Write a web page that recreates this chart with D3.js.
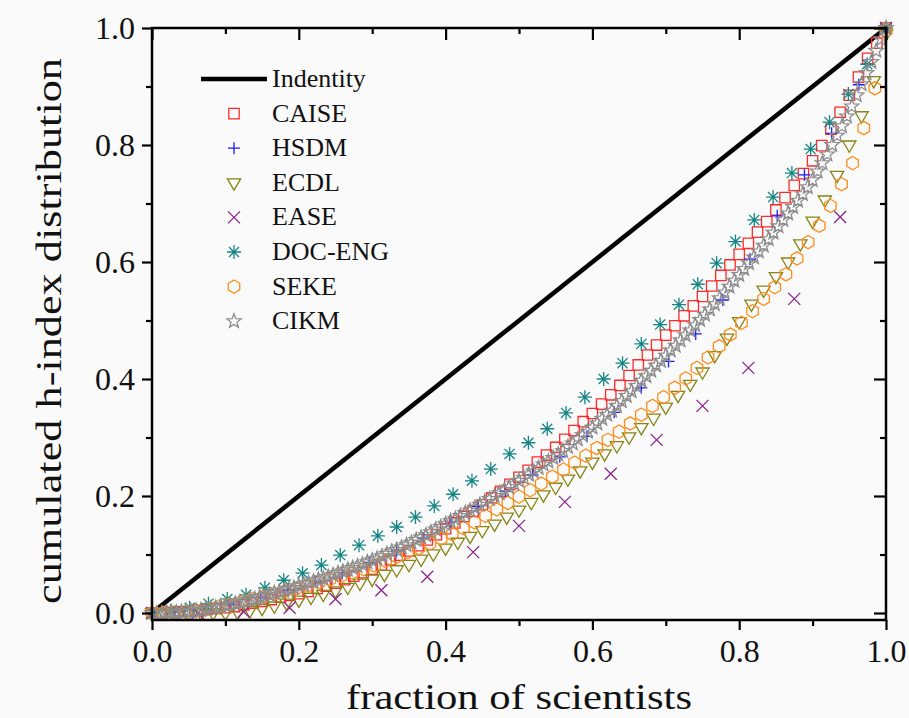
<!DOCTYPE html>
<html lang="en-US">
<head>
<meta charset="utf-8">
<style>
  body { margin: 0; background: #fafafa; }
  svg text { font-family: "Liberation Serif", "DejaVu Serif", serif; fill: #111; }
</style>
</head>
<body>
<div id="chart"></div>
<script src="https://cdnjs.cloudflare.com/ajax/libs/d3/7.8.5/d3.min.js"></script>
<script>
var WIDTH = 909, HEIGHT = 718;

// cumulated h-index share; x of point i is i/(n-1)
var identityX = [0, 1];
var identityY = [0, 1];
var caise = [0, 0.000, 0.001, 0.002, 0.003, 0.004, 0.006, 0.008, 0.009, 0.011,
  0.014, 0.017, 0.020, 0.023, 0.027, 0.030, 0.033, 0.037, 0.042, 0.046,
  0.051, 0.057, 0.063, 0.069, 0.075, 0.082, 0.091, 0.099, 0.106, 0.115,
  0.125, 0.134, 0.144, 0.154, 0.165, 0.174, 0.185, 0.197, 0.208, 0.220,
  0.232, 0.244, 0.258, 0.270, 0.283, 0.297, 0.312, 0.327, 0.341, 0.357,
  0.373, 0.389, 0.406, 0.424, 0.441, 0.458, 0.475, 0.491, 0.508, 0.525,
  0.541, 0.559, 0.577, 0.595, 0.613, 0.632, 0.651, 0.669, 0.689, 0.710,
  0.731, 0.751, 0.773, 0.799, 0.827, 0.856, 0.885, 0.916, 0.948, 0.974,
  1.000];
var hsdm = [0, 0.001, 0.006, 0.014, 0.026, 0.039, 0.054, 0.069, 0.086, 0.106,
  0.128, 0.156, 0.182, 0.208, 0.236, 0.267, 0.302, 0.343, 0.385, 0.430,
  0.477, 0.535, 0.605, 0.679, 0.749, 0.820, 0.903, 1.000];
var ecdl = [0, 0, 0, 0, 0, 0, 0.000, 0.001, 0.004, 0.008,
  0.012, 0.017, 0.022, 0.027, 0.032, 0.038, 0.044, 0.051, 0.058, 0.066,
  0.074, 0.083, 0.092, 0.101, 0.111, 0.121, 0.131, 0.141, 0.152, 0.164,
  0.176, 0.189, 0.202, 0.215, 0.229, 0.243, 0.258, 0.272, 0.286, 0.301,
  0.317, 0.333, 0.352, 0.372, 0.391, 0.412, 0.440, 0.470, 0.498, 0.528,
  0.552, 0.575, 0.600, 0.631, 0.670, 0.706, 0.748, 0.800, 0.850, 0.910,
  0.990];
var ease = [0, 0, 0.002, 0.009, 0.024, 0.039, 0.062, 0.104, 0.149, 0.190,
  0.238, 0.296, 0.354, 0.419, 0.537, 0.677, 1.000];
var docEng = [0, 0.004, 0.009, 0.016, 0.024, 0.031, 0.043, 0.056, 0.068, 0.082,
  0.099, 0.116, 0.132, 0.147, 0.164, 0.183, 0.203, 0.226, 0.246, 0.272,
  0.291, 0.315, 0.342, 0.369, 0.400, 0.427, 0.460, 0.493, 0.527, 0.562,
  0.598, 0.635, 0.672, 0.711, 0.752, 0.793, 0.839, 0.887, 0.938, 1.000];
var seke = [0, 0.000, 0.001, 0.002, 0.004, 0.007, 0.011, 0.015, 0.019, 0.024,
  0.028, 0.033, 0.038, 0.042, 0.047, 0.052, 0.057, 0.063, 0.069, 0.075,
  0.081, 0.089, 0.096, 0.104, 0.111, 0.119, 0.127, 0.135, 0.145, 0.155,
  0.166, 0.177, 0.188, 0.199, 0.210, 0.221, 0.233, 0.245, 0.257, 0.269,
  0.282, 0.296, 0.310, 0.324, 0.339, 0.354, 0.369, 0.385, 0.401, 0.419,
  0.437, 0.456, 0.476, 0.496, 0.516, 0.537, 0.557, 0.579, 0.606, 0.634,
  0.662, 0.696, 0.733, 0.769, 0.829, 0.897, 0.995];
var cikm = [0, 0.000, 0.000, 0.001, 0.001, 0.001, 0.002, 0.003, 0.003, 0.004,
  0.005, 0.007, 0.008, 0.009, 0.011, 0.013, 0.014, 0.016, 0.018, 0.020,
  0.022, 0.024, 0.027, 0.029, 0.031, 0.034, 0.036, 0.038, 0.041, 0.043,
  0.046, 0.049, 0.051, 0.054, 0.057, 0.059, 0.062, 0.065, 0.068, 0.071,
  0.074, 0.077, 0.080, 0.083, 0.087, 0.090, 0.093, 0.097, 0.101, 0.105,
  0.108, 0.112, 0.116, 0.120, 0.125, 0.129, 0.133, 0.138, 0.143, 0.147,
  0.152, 0.157, 0.161, 0.166, 0.171, 0.175, 0.180, 0.185, 0.190, 0.195,
  0.200, 0.205, 0.210, 0.215, 0.221, 0.226, 0.231, 0.237, 0.242, 0.248,
  0.254, 0.259, 0.265, 0.271, 0.277, 0.284, 0.290, 0.297, 0.304, 0.310,
  0.317, 0.324, 0.332, 0.339, 0.346, 0.354, 0.362, 0.371, 0.379, 0.388,
  0.397, 0.405, 0.414, 0.423, 0.431, 0.440, 0.449, 0.457, 0.466, 0.475,
  0.483, 0.492, 0.501, 0.510, 0.519, 0.528, 0.538, 0.548, 0.558, 0.568,
  0.578, 0.588, 0.598, 0.608, 0.618, 0.628, 0.639, 0.650, 0.661, 0.672,
  0.683, 0.694, 0.705, 0.716, 0.728, 0.740, 0.755, 0.769, 0.784, 0.800,
  0.816, 0.832, 0.849, 0.866, 0.885, 0.904, 0.923, 0.942, 0.961, 0.981,
  1.000];

var seriesNames = ["CAISE", "HSDM", "ECDL", "EASE", "DOC-ENG", "SEKE", "CIKM"];
var seriesValues = [caise, hsdm, ecdl, ease, docEng, seke, cikm];
var seriesColors = ["#ff2a2a", "#1a1aff", "#858515", "#8a238a", "#168585", "#ff8c1a", "#8c8c8c"];
var majorTicks = [0, 0.2, 0.4, 0.6, 0.8, 1.0];
var minorTicks = [0.1, 0.3, 0.5, 0.7, 0.9];

// marker shapes, size = radius^2
var symSquare = { draw: function (c, s) { var r = Math.sqrt(s); c.rect(-r, -r, 2 * r, 2 * r); } };
var symPlus = { draw: function (c, s) { var r = Math.sqrt(s);
  c.moveTo(-r, 0); c.lineTo(r, 0); c.moveTo(0, -r); c.lineTo(0, r); } };
var symTriDown = { draw: function (c, s) { var r = Math.sqrt(s);
  c.moveTo(-r, -0.6 * r); c.lineTo(r, -0.6 * r); c.lineTo(0, 1.1 * r); c.closePath(); } };
var symTimes = { draw: function (c, s) { var r = Math.sqrt(s);
  c.moveTo(-r, -r); c.lineTo(r, r); c.moveTo(-r, r); c.lineTo(r, -r); } };
var symAsterisk = { draw: function (c, s) { var r = Math.sqrt(s), d = r * 0.72;
  c.moveTo(-r, 0); c.lineTo(r, 0); c.moveTo(0, -r); c.lineTo(0, r);
  c.moveTo(-d, -d); c.lineTo(d, d); c.moveTo(-d, d); c.lineTo(d, -d); } };
var symHexagon = { draw: function (c, s) { var r = Math.sqrt(s);
  for (var k = 0; k < 6; k++) {
    var a = (-90 + 60 * k) * Math.PI / 180;
    if (k === 0) c.moveTo(r * Math.cos(a), r * Math.sin(a)); else c.lineTo(r * Math.cos(a), r * Math.sin(a));
  }
  c.closePath(); } };
var symStar = { draw: function (c, s) { var r = Math.sqrt(s);
  for (var k = 0; k < 10; k++) {
    var a = (-90 + 36 * k) * Math.PI / 180, rr = k % 2 ? r * 0.42 : r;
    if (k === 0) c.moveTo(rr * Math.cos(a), rr * Math.sin(a)); else c.lineTo(rr * Math.cos(a), rr * Math.sin(a));
  }
  c.closePath(); } };
var seriesSymbols = [symSquare, symPlus, symTriDown, symTimes, symAsterisk, symHexagon, symStar];
var seriesSizes = [27, 36, 44, 36, 49, 44, 56];

var svg = d3.select("#chart").append("svg").attr("width", WIDTH).attr("height", HEIGHT);
svg.append("rect").attr("width", WIDTH).attr("height", HEIGHT).attr("fill", "#fafafa");

var x = d3.scaleLinear().domain([0, 1]).range([152, 886]);
var y = d3.scaleLinear().domain([0, 1]).range([613, 28]);
var bottomY = 620, topY = 28;

// identity line
var line = d3.line().x(function (d) { return x(d[0]); }).y(function (d) { return y(d[1]); });
svg.append("path").datum(d3.zip(identityX, identityY)).attr("d", line)
  .attr("stroke", "#000").attr("stroke-width", 4.5).attr("fill", "none");

// scatter series
seriesValues.forEach(function (vals, si) {
  var n = vals.length;
  svg.append("g").selectAll("path").data(vals).join("path")
    .attr("transform", function (d, i) { return "translate(" + x(i / (n - 1)) + "," + y(d) + ")"; })
    .attr("d", d3.symbol().type(seriesSymbols[si]).size(seriesSizes[si]))
    .attr("fill", "none").attr("stroke", seriesColors[si]).attr("stroke-width", 1.3);
});

// frame and axes
svg.append("rect").attr("x", x(0)).attr("y", topY).attr("width", x(1) - x(0)).attr("height", bottomY - topY)
  .attr("fill", "none").attr("stroke", "#000").attr("stroke-width", 2.5);

function styleAxis(g) {
  g.select(".domain").remove();
  g.selectAll("line").attr("stroke", "#000").attr("stroke-width", 2.2);
  g.attr("font-family", null).attr("font-size", 32);
  g.selectAll("text").attr("fill", "#111");
}
var fmt = d3.format(".1f");
svg.append("g").attr("transform", "translate(" + x(0) + ",0)")
  .call(d3.axisLeft(y).tickValues(majorTicks).tickSize(10).tickPadding(7).tickFormat(fmt)).call(styleAxis);
svg.append("g").attr("transform", "translate(" + x(0) + ",0)")
  .call(d3.axisLeft(y).tickValues(minorTicks).tickSize(6).tickFormat("")).call(styleAxis);
svg.append("g").attr("transform", "translate(0," + bottomY + ")")
  .call(d3.axisBottom(x).tickValues(majorTicks).tickSize(10).tickPadding(9).tickFormat(fmt)).call(styleAxis);
svg.append("g").attr("transform", "translate(0," + bottomY + ")")
  .call(d3.axisBottom(x).tickValues(minorTicks).tickSize(6).tickFormat("")).call(styleAxis);
svg.append("g").attr("transform", "translate(0," + topY + ")")
  .call(d3.axisTop(x).tickValues(majorTicks).tickSize(-12).tickFormat("")).call(styleAxis);
svg.append("g").attr("transform", "translate(0," + topY + ")")
  .call(d3.axisTop(x).tickValues(minorTicks).tickSize(-6).tickFormat("")).call(styleAxis);
svg.append("g").attr("transform", "translate(" + x(1) + ",0)")
  .call(d3.axisRight(y).tickValues(majorTicks).tickSize(-12).tickFormat("")).call(styleAxis);
svg.append("g").attr("transform", "translate(" + x(1) + ",0)")
  .call(d3.axisRight(y).tickValues(minorTicks).tickSize(-6).tickFormat("")).call(styleAxis);

// axis titles
svg.append("text").attr("x", 519).attr("y", 709).attr("text-anchor", "middle")
  .attr("font-size", 36).attr("textLength", 346).attr("lengthAdjust", "spacingAndGlyphs")
  .text("fraction of scientists");
svg.append("text").attr("transform", "translate(61,331) rotate(-90)").attr("text-anchor", "middle")
  .attr("font-size", 36).attr("textLength", 546).attr("lengthAdjust", "spacingAndGlyphs")
  .text("cumulated h-index distribution");

// legend
var legendX = 234, legendTextX = 272, legendY0 = 79, legendStep = 34.6;
var legend = svg.append("g");
legend.append("path").datum([[201, legendY0], [267, legendY0]]).attr("d", d3.line())
  .attr("stroke", "#000").attr("stroke-width", 4.5);
legend.append("text").attr("x", legendTextX).attr("y", legendY0 + 8).attr("font-size", 26).text("Indentity");
seriesNames.forEach(function (name, si) {
  var ly = legendY0 + legendStep * (si + 1);
  legend.append("path").attr("transform", "translate(" + legendX + "," + ly + ")")
    .attr("d", d3.symbol().type(seriesSymbols[si]).size(seriesSizes[si]))
    .attr("fill", "none").attr("stroke", seriesColors[si]).attr("stroke-width", 1.3);
  legend.append("text").attr("x", legendTextX).attr("y", ly + 8).attr("font-size", 26).text(name);
});
</script>
</body>
</html>
